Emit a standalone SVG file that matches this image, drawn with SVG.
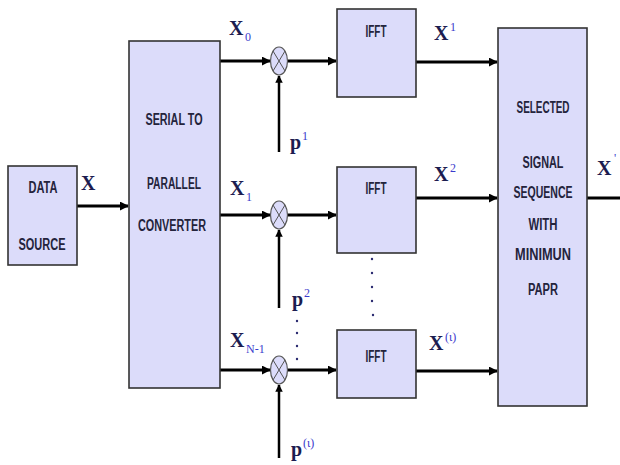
<svg xmlns="http://www.w3.org/2000/svg" width="620" height="465" viewBox="0 0 620 465">
<defs>
<style>
.box{fill:#dcdcfa;stroke:#333;stroke-width:1.6}
.bt{font-family:"Liberation Sans",Arial,sans-serif;font-size:16px;font-weight:bold;fill:#24243c;text-anchor:middle}
.m{font-family:"Liberation Serif","Times New Roman",serif;font-size:20px;font-weight:bold;fill:#1c1c50}
.s{font-family:"Liberation Serif","Times New Roman",serif;font-size:12px;fill:#3a3acc}
.ln{stroke:#000;stroke-width:3;fill:none}
.pl{stroke:#000;stroke-width:2.5;fill:none}
.mul{fill:#dcdcfa;stroke:#555;stroke-width:1.2}
.x{stroke:#555;stroke-width:1;fill:none}
.dot{fill:#2a2a70}
</style>
<marker id="ah" viewBox="0 0 10 10" refX="9" refY="5" markerWidth="3" markerHeight="3" orient="auto" markerUnits="strokeWidth">
<path d="M0,0 L10,5 L0,10 z" fill="#000"/>
</marker>
</defs>
<rect width="620" height="465" fill="#fff"/>

<g id="connectors">
<line class="ln" x1="77" y1="206" x2="128" y2="206" marker-end="url(#ah)"/>
<line class="ln" x1="220" y1="61" x2="270" y2="61" marker-end="url(#ah)"/>
<line class="ln" x1="220" y1="215" x2="270" y2="215" marker-end="url(#ah)"/>
<line class="ln" x1="220" y1="370" x2="270" y2="370" marker-end="url(#ah)"/>
<line class="ln" x1="288" y1="61" x2="336" y2="61" marker-end="url(#ah)"/>
<line class="ln" x1="288" y1="215" x2="336" y2="215" marker-end="url(#ah)"/>
<line class="ln" x1="288" y1="370" x2="336" y2="370" marker-end="url(#ah)"/>
<line class="pl" x1="279" y1="152" x2="279" y2="76" marker-end="url(#ah)"/>
<line class="pl" x1="279" y1="308" x2="279" y2="230" marker-end="url(#ah)"/>
<line class="pl" x1="279" y1="458" x2="279" y2="385" marker-end="url(#ah)"/>
<line class="ln" x1="416" y1="62" x2="497" y2="62" marker-end="url(#ah)"/>
<line class="ln" x1="416" y1="198" x2="497" y2="198" marker-end="url(#ah)"/>
<line class="ln" x1="416" y1="371" x2="497" y2="371" marker-end="url(#ah)"/>
<line class="ln" x1="587" y1="198" x2="620" y2="198"/>
</g>

<g id="data-source">
<rect class="box" x="8" y="166" width="69" height="99"/>
<text class="bt" x="43" y="193" textLength="29" lengthAdjust="spacingAndGlyphs">DATA</text>
<text class="bt" x="42" y="250" textLength="47" lengthAdjust="spacingAndGlyphs">SOURCE</text>
</g>

<g id="serial-to-parallel">
<rect class="box" x="129" y="41" width="91" height="347"/>
<text class="bt" x="174" y="125" textLength="57" lengthAdjust="spacingAndGlyphs">SERIAL TO</text>
<text class="bt" x="174" y="189" textLength="54" lengthAdjust="spacingAndGlyphs">PARALLEL</text>
<text class="bt" x="172" y="231" textLength="68" lengthAdjust="spacingAndGlyphs">CONVERTER</text>
</g>

<g id="mult-1">
<ellipse class="mul" cx="279" cy="61" rx="8.5" ry="14"/>
<path class="x" d="M273,51 L285,71 M285,51 L273,71"/>
</g>
<g id="mult-2">
<ellipse class="mul" cx="279" cy="215" rx="8.5" ry="14"/>
<path class="x" d="M273,205 L285,225 M285,205 L273,225"/>
</g>
<g id="mult-3">
<ellipse class="mul" cx="279" cy="370" rx="8.5" ry="14"/>
<path class="x" d="M273,360 L285,380 M285,360 L273,380"/>
</g>

<g id="ifft-1">
<rect class="box" x="337" y="9" width="79" height="88"/>
<text class="bt" x="376" y="37" textLength="21" lengthAdjust="spacingAndGlyphs">IFFT</text>
</g>
<g id="ifft-2">
<rect class="box" x="337" y="167" width="79" height="86"/>
<text class="bt" x="376" y="194" textLength="21" lengthAdjust="spacingAndGlyphs">IFFT</text>
</g>
<g id="ifft-3">
<rect class="box" x="337" y="330" width="79" height="68"/>
<text class="bt" x="376" y="362" textLength="21" lengthAdjust="spacingAndGlyphs">IFFT</text>
</g>

<g id="selected">
<rect class="box" x="498" y="28" width="89" height="378"/>
<text class="bt" x="543" y="113" textLength="53" lengthAdjust="spacingAndGlyphs">SELECTED</text>
<text class="bt" x="543" y="168" textLength="41" lengthAdjust="spacingAndGlyphs">SIGNAL</text>
<text class="bt" x="543" y="198" textLength="59" lengthAdjust="spacingAndGlyphs">SEQUENCE</text>
<text class="bt" x="543" y="230" textLength="29" lengthAdjust="spacingAndGlyphs">WITH</text>
<text class="bt" x="543" y="260" textLength="56" lengthAdjust="spacingAndGlyphs">MINIMUN</text>
<text class="bt" x="543" y="295" textLength="30" lengthAdjust="spacingAndGlyphs">PAPR</text>
</g>

<g id="dots">
<circle class="dot" cx="372" cy="259" r="1.2"/>
<circle class="dot" cx="372" cy="273" r="1.2"/>
<circle class="dot" cx="372" cy="287" r="1.2"/>
<circle class="dot" cx="372" cy="301" r="1.2"/>
<circle class="dot" cx="373" cy="315" r="1.2"/>
<circle class="dot" cx="297" cy="321" r="1.2"/>
<circle class="dot" cx="297" cy="333" r="1.2"/>
<circle class="dot" cx="297" cy="346" r="1.2"/>
<circle class="dot" cx="297" cy="359" r="1.2"/>
</g>

<g id="labels">
<text class="m" x="81" y="190">X</text>
<text class="m" x="229" y="35">X</text><text class="s" x="245" y="41">0</text>
<text class="m" x="230" y="195">X</text><text class="s" x="246" y="201">1</text>
<text class="m" x="230" y="347">X</text><text class="s" x="246" y="353">N-1</text>
<text class="m" x="290" y="149">p</text><text class="s" x="302" y="140">1</text>
<text class="m" x="292" y="306">p</text><text class="s" x="304" y="297">2</text>
<text class="m" x="291" y="456">p</text><text class="s" x="303" y="447">(ι)</text>
<text class="m" x="434" y="40">X</text><text class="s" x="450" y="31">1</text>
<text class="m" x="434" y="181">X</text><text class="s" x="450" y="172">2</text>
<text class="m" x="429" y="350">X</text><text class="s" x="445" y="341">(ι)</text>
<text class="m" x="597" y="175">X</text><text class="s" x="614" y="162">'</text>
</g>
</svg>
